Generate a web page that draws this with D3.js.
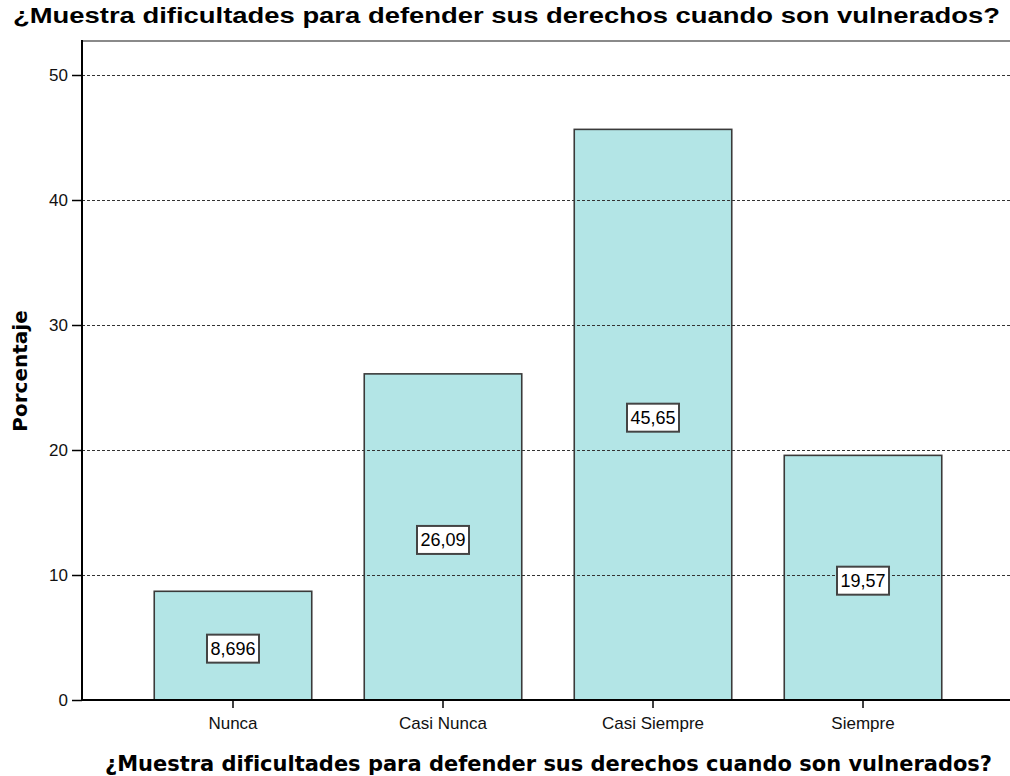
<!DOCTYPE html>
<html lang="es">
<head>
<meta charset="utf-8">
<title>Porcentaje</title>
<script src="https://d3js.org/d3.v7.min.js"></script>
<style>
  body { margin: 0; background: #fff; }
  svg { display: block; }
</style>
</head>
<body>
<div id="mainDiv"></div>
<script>
const categories = ['Nunca', 'Casi Nunca', 'Casi Siempre', 'Siempre']
const values = [8.696, 26.09, 45.65, 19.57]
const valueLabels = ['8,696', '26,09', '45,65', '19,57']
const yTicks = [0, 10, 20, 30, 40, 50]
const titleText = '¿Muestra dificultades para defender sus derechos cuando son vulnerados?'
const yTitle = 'Porcentaje'

const width = 1010
const height = 776
const plot = { left: 82, right: 1010, top: 41, bottom: 700 }

const svg = d3.select('#mainDiv').append('svg')
  .attr('width', width)
  .attr('height', height)

const x = d3.scaleBand()
  .domain(categories)
  .range([plot.left, 1014])
  .paddingInner(0.25)
  .paddingOuter(0.344)

const y = d3.scaleLinear()
  .domain([0, 52.72])
  .range([plot.bottom, plot.top])

// title
svg.append('text')
  .attr('x', 13).attr('y', 23)
  .attr('textLength', 987).attr('lengthAdjust', 'spacingAndGlyphs')
  .style('font-family', 'Liberation Sans, Arial, sans-serif')
  .style('font-weight', 'bold').style('font-size', '22px')
  .text(titleText)

// top frame
svg.append('line')
  .attr('x1', plot.left).attr('x2', plot.right)
  .attr('y1', plot.top).attr('y2', plot.top)
  .attr('stroke', '#8a8a8a').attr('stroke-width', 2)

// bars
svg.selectAll('rect.bar')
  .data(values)
  .enter().append('rect')
  .attr('class', 'bar')
  .attr('x', (d, i) => x(categories[i]))
  .attr('y', d => y(d))
  .attr('width', x.bandwidth())
  .attr('height', d => y(0) - y(d))
  .attr('fill', '#b3e5e6')
  .attr('stroke', '#3a3a3a')
  .attr('stroke-width', 1.6)

// gridlines (drawn over bars)
svg.append('g').selectAll('line')
  .data(yTicks.filter(t => t > 0))
  .enter().append('line')
  .attr('x1', plot.left).attr('x2', plot.right)
  .attr('y1', d => Math.round(y(d)) + 0.5).attr('y2', d => Math.round(y(d)) + 0.5)
  .attr('stroke', '#333').attr('stroke-width', 1)
  .attr('stroke-dasharray', '3,2')

// value labels
const lab = svg.append('g').selectAll('g')
  .data(values)
  .enter().append('g')
  .attr('transform', (d, i) => `translate(${x(categories[i]) + x.bandwidth() / 2},${y(d / 2) + 3})`)

lab.append('rect')
  .attr('x', -26).attr('y', -14)
  .attr('width', 52).attr('height', 28)
  .attr('fill', '#fff')
  .attr('stroke', '#444').attr('stroke-width', 2)

lab.append('text')
  .attr('text-anchor', 'middle')
  .attr('y', 6.5)
  .style('font-family', 'Liberation Sans, Arial, sans-serif')
  .style('font-size', '18px')
  .text((d, i) => valueLabels[i])

// axes
const yAxis = d3.axisLeft(y).tickValues(yTicks).tickSize(10).tickPadding(4)
const yAxisPlot = svg.append('g')
  .attr('transform', `translate(${plot.left},0)`)
  .call(yAxis)
yAxisPlot.select('.domain').remove()
yAxisPlot.selectAll('line').attr('stroke', '#000').attr('stroke-width', 1.5)
yAxisPlot.selectAll('text')
  .style('font-family', 'Liberation Sans, Arial, sans-serif')
  .style('font-size', '17px').attr('fill', '#111')

const xAxis = d3.axisBottom(x).tickSize(8).tickPadding(9)
const xAxisPlot = svg.append('g')
  .attr('transform', `translate(0,${plot.bottom})`)
  .call(xAxis)
xAxisPlot.select('.domain').remove()
xAxisPlot.selectAll('line').attr('stroke', '#000').attr('stroke-width', 1.5)
xAxisPlot.selectAll('text')
  .style('font-family', 'Liberation Sans, Arial, sans-serif')
  .style('font-size', '17px').attr('fill', '#111')

svg.append('line')
  .attr('x1', plot.left).attr('x2', plot.left)
  .attr('y1', plot.top - 1).attr('y2', plot.bottom)
  .attr('stroke', '#000').attr('stroke-width', 2)
svg.append('line')
  .attr('x1', plot.left).attr('x2', plot.right)
  .attr('y1', plot.bottom).attr('y2', plot.bottom)
  .attr('stroke', '#000').attr('stroke-width', 2)

// axis titles
svg.append('text')
  .attr('transform', 'translate(27,371) rotate(-90)')
  .attr('text-anchor', 'middle')
  .style('font-family', 'DejaVu Sans, Verdana, sans-serif')
  .style('font-weight', 'bold').style('font-size', '20px')
  .text(yTitle)

svg.append('text')
  .attr('x', 105).attr('y', 771)
  .attr('textLength', 887).attr('lengthAdjust', 'spacingAndGlyphs')
  .style('font-family', 'DejaVu Sans, Verdana, sans-serif')
  .style('font-weight', 'bold').style('font-size', '21px')
  .text(titleText)
</script>
</body>
</html>
